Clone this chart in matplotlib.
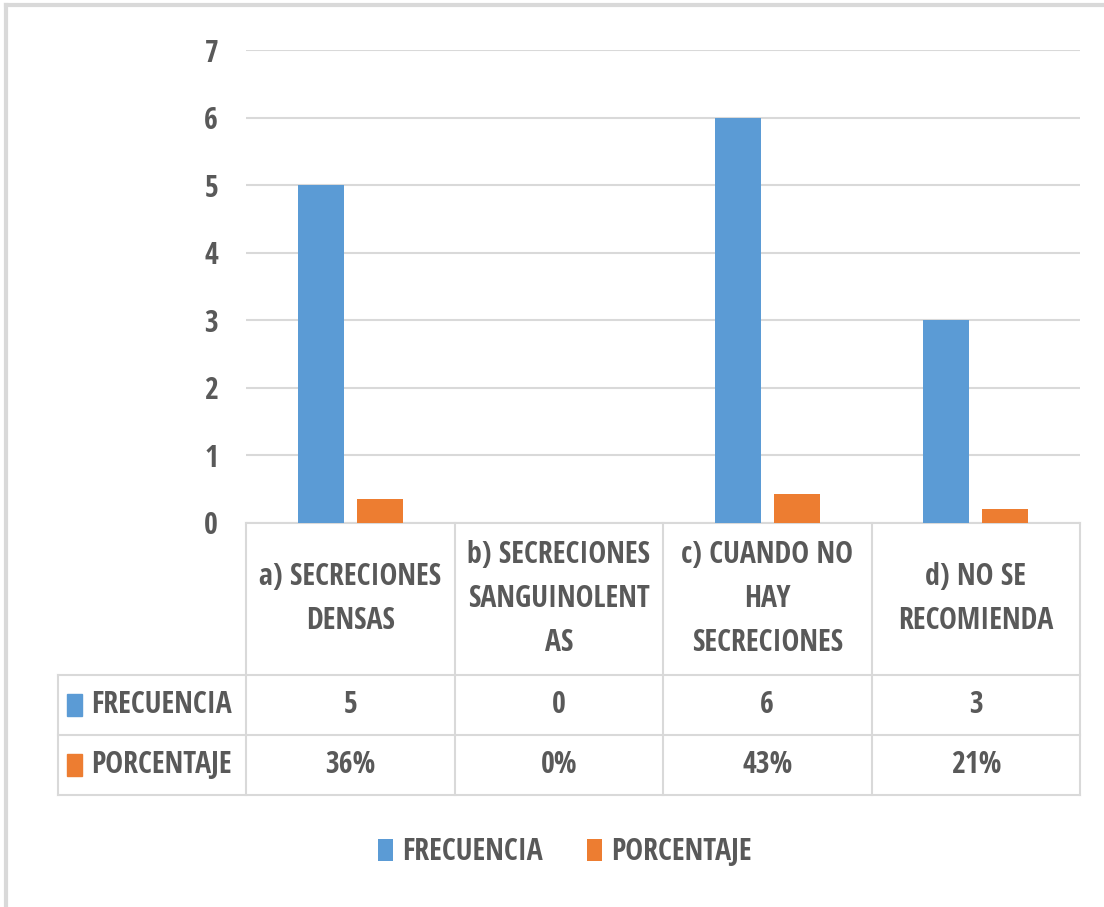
import matplotlib.pyplot as plt
import matplotlib.transforms as mtransforms
from matplotlib import font_manager as fm
from matplotlib.lines import Line2D
from matplotlib.patches import Rectangle
import numpy as np

disponibles = {f.name for f in fm.fontManager.ttflist}
if 'Open Sans Condensed' in disponibles:
    plt.rcParams['font.family'] = ['Open Sans Condensed', 'DejaVu Sans']
    fs = 21.5
else:
    plt.rcParams['font.family'] = ['DejaVu Sans']
    fs = 15
plt.rcParams['font.weight'] = 'bold'

categorias = ['a) SECRECIONES\nDENSAS',
              'b) SECRECIONES\nSANGUINOLENT\nAS',
              'c) CUANDO NO\nHAY\nSECRECIONES',
              'd) NO SE\nRECOMIENDA']
frecuencia = [5, 0, 6, 3]
porcentaje = [0.36, 0.0, 0.43, 0.21]
series = ['FRECUENCIA', 'PORCENTAJE']
colores = ['#5B9BD5', '#ED7D31']

W, H = 1104, 907
gris = '#595959'
linea = '#d9d9d9'

fig = plt.figure(figsize=(W / 100, H / 100), dpi=100)
ax = fig.add_axes([246 / W, 1 - 523 / H, (1080 - 246) / W, (523 - 50) / H])

x = np.arange(len(categorias))
ancho = 0.22
b1 = ax.bar(x - 0.142, frecuencia, ancho, color=colores[0], zorder=3)
b2 = ax.bar(x + 0.142, porcentaje, ancho, color=colores[1], zorder=3)

ax.set_xlim(-0.5, len(categorias) - 0.5)
ax.set_ylim(0, 7)
ax.set_yticks(range(8))
ax.yaxis.grid(True, color=linea, lw=1.5, zorder=0)
ax.tick_params(axis='y', length=0, pad=20, labelsize=fs, labelcolor=gris)
ax.set_xticks([])
for s in ax.spines.values():
    s.set_visible(False)

# tabla de datos bajo el eje
tr = mtransforms.blended_transform_factory(ax.transData, fig.transFigure)
fy = lambda py: 1 - py / H
izq = -1.403
der = len(categorias) - 0.5
kw = dict(color=linea, lw=1.5, transform=tr, clip_on=False)

ax.add_line(Line2D([-0.5, der], [fy(523), fy(523)], **kw))
for py in (675, 735, 795):
    ax.add_line(Line2D([izq, der], [fy(py), fy(py)], **kw))
ax.add_line(Line2D([izq, izq], [fy(675), fy(795)], **kw))
for xc in np.arange(-0.5, der + 0.01, 1.0):
    ax.add_line(Line2D([xc, xc], [fy(523), fy(795)], **kw))

for i, cat in enumerate(categorias):
    ax.text(i, fy(599), cat, transform=tr, ha='center', va='center',
            fontsize=fs, color=gris, linespacing=1.62)

filas = [[str(v) for v in frecuencia],
         ['{:.0f}%'.format(v * 100) for v in porcentaje]]
centros = [705, 765]
for fila, nombre, col, py in zip(filas, series, colores, centros):
    ax.add_patch(Rectangle((-1.36, fy(py + 11)), 0.072, 22 / H,
                           transform=tr, color=col, clip_on=False))
    ax.text(-1.244, fy(py), nombre, transform=tr, ha='left', va='center',
            fontsize=fs, color=gris)
    for i, v in enumerate(fila):
        ax.text(i, fy(py), v, transform=tr, ha='center', va='center',
                fontsize=fs, color=gris)

leg = fig.legend([b1, b2], series, loc='center', bbox_to_anchor=(565 / W, fy(852)),
                 ncol=2, frameon=False, prop={'size': fs, 'weight': 'bold'},
                 labelcolor=gris, handlelength=0.5, handleheight=0.75,
                 handletextpad=0.3, columnspacing=1.5)
for t in leg.get_texts():
    t.set_fontweight('bold')

# marco exterior
fig.add_artist(Line2D([6 / W, 1], [fy(5), fy(5)], color=linea, lw=3))
fig.add_artist(Line2D([6 / W, 6 / W], [0, fy(5)], color=linea, lw=3))

fig.savefig('out.png', dpi=100, facecolor='white')
